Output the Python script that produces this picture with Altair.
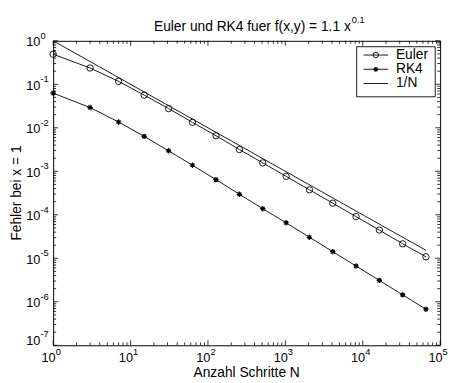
import altair as alt
import pandas as pd

# ---- data ----
N = [1, 3, 7, 15, 31, 63, 127, 255, 511, 1023, 2047, 4095, 8191, 16383, 32767, 65535]
euler = [0.491, 0.237, 0.117, 0.0564, 0.0277, 0.01336, 0.00656, 0.00317, 0.00156,
         0.000766, 0.000376, 0.000185, 9.09e-5, 4.46e-5, 2.15e-5, 1.08e-5]
rk4 = [0.0626, 0.0292, 0.01358, 0.00635, 0.00296, 0.001377, 0.000645, 0.000296,
       0.000138, 6.55e-5, 3.05e-5, 1.42e-5, 6.65e-6, 3.10e-6, 1.44e-6, 6.75e-7]
ref_N = [1, 65535]
ref_val = [1.0, 1.526e-5]

x_major = [1, 10, 100, 1000, 10000, 100000]
x_exp = ["0", "1", "2", "3", "4", "5"]
y_major = [1e-6, 1e-5, 1e-4, 1e-3, 1e-2, 1e-1, 1]
y_exp = ["-6", "-5", "-4", "-3", "-2", "-1", "0"]
y_bottom = [1e-7]
y_bottom_exp = ["-7"]
x_minor = [d * 10 ** k for k in range(0, 5) for d in range(2, 10)]
y_minor = [d * 10.0 ** k for k in range(-7, 0) for d in range(2, 10)]

W, H = 394, 310
FONT = "Liberation Sans"
FS = 14      # titles / legend
TFS = 13     # tick labels
EFS = 9.5    # exponents
xs = alt.Scale(type="log", domain=[1, 1e5], nice=False)
ys = alt.Scale(type="log", domain=[1e-7, 1], nice=False)


def X(f="N"):
    return alt.X(f"{f}:Q", scale=xs, axis=None)


def Y(f="err"):
    return alt.Y(f"{f}:Q", scale=ys, axis=None)


df_e = pd.DataFrame({"N": N, "err": euler})
df_r = pd.DataFrame({"N": N, "err": rk4})
df_ref = pd.DataFrame({"N": ref_N, "err": ref_val})
dummy = pd.DataFrame({"a": [0]})

layers = []

# ---- ticks (inside, all four sides) ----
for vals, ln in ((x_major, 5), (x_minor, 3)):
    d = pd.DataFrame({"v": vals})
    layers.append(alt.Chart(d).mark_rule(color="black", strokeWidth=0.8).encode(
        x=X("v"), y=alt.value(H), y2=alt.value(H - ln)))
    layers.append(alt.Chart(d).mark_rule(color="black", strokeWidth=0.8).encode(
        x=X("v"), y=alt.value(0), y2=alt.value(ln)))
for vals, ln in ((y_major + y_bottom, 5), (y_minor, 3)):
    d = pd.DataFrame({"v": vals})
    layers.append(alt.Chart(d).mark_rule(color="black", strokeWidth=0.8).encode(
        y=Y("v"), x=alt.value(0), x2=alt.value(ln)))
    layers.append(alt.Chart(d).mark_rule(color="black", strokeWidth=0.8).encode(
        y=Y("v"), x=alt.value(W), x2=alt.value(W - ln)))

# ---- data ----
LW = 0.9
ASTER = "M-1,0L1,0M0,-1L0,1M-0.7,-0.7L0.7,0.7M-0.7,0.7L0.7,-0.7"
layers.append(alt.Chart(df_ref).mark_line(color="black", strokeWidth=LW).encode(x=X(), y=Y()))
layers.append(alt.Chart(df_e).mark_line(color="black", strokeWidth=LW).encode(x=X(), y=Y()))
layers.append(alt.Chart(df_e).mark_point(shape="circle", size=42, filled=False, color="black",
                                         strokeWidth=LW, opacity=1).encode(x=X(), y=Y()))
layers.append(alt.Chart(df_r).mark_line(color="black", strokeWidth=LW).encode(x=X(), y=Y()))
layers.append(alt.Chart(df_r).mark_point(shape=ASTER, size=30, filled=False, color="black",
                                         strokeWidth=1.2, opacity=1).encode(x=X(), y=Y()))

# ---- tick labels ----
dxl = pd.DataFrame({"v": x_major, "e": x_exp})
layers.append(alt.Chart(dxl).mark_text(text="10", align="right", dx=2.5, baseline="middle",
                                       fontSize=TFS, font=FONT, color="black").encode(
    x=X("v"), y=alt.value(H + 13.5)))
layers.append(alt.Chart(dxl).mark_text(align="left", dx=2.5, baseline="middle",
                                       fontSize=EFS, font=FONT, color="black").encode(
    x=X("v"), y=alt.value(H + 7), text="e:N"))

for vals, exps, shift in ((y_major, y_exp, 0), (y_bottom, y_bottom_exp, -6)):
    dyl = pd.DataFrame({"v": vals, "e": exps})
    layers.append(alt.Chart(dyl).mark_text(text="10", align="right", baseline="middle", dy=1.5 + shift,
                                           fontSize=TFS, font=FONT, color="black").encode(
        x=alt.value(-13), y=Y("v")))
    layers.append(alt.Chart(dyl).mark_text(align="left", baseline="middle", dy=-5 + shift,
                                           fontSize=EFS, font=FONT, color="black").encode(
        x=alt.value(-13), y=Y("v"), text="e:N"))

# ---- titles ----
layers.append(alt.Chart(dummy).mark_text(text="Euler und RK4 fuer f(x,y) = 1.1 x", align="right",
                                         baseline="alphabetic", fontSize=FS, font=FONT,
                                         color="black").encode(x=alt.value(303), y=alt.value(-10.5)))
layers.append(alt.Chart(dummy).mark_text(text="0.1", align="left", baseline="alphabetic",
                                         fontSize=EFS, font=FONT, color="black").encode(
    x=alt.value(304), y=alt.value(-18.5)))
layers.append(alt.Chart(dummy).mark_text(text="Anzahl Schritte N", align="center", baseline="middle",
                                         fontSize=FS, font=FONT, color="black").encode(
    x=alt.value(W / 2), y=alt.value(H + 28.5)))
layers.append(alt.Chart(dummy).mark_text(text="Fehler bei x = 1", align="center", baseline="middle",
                                         angle=270, fontSize=FS, font=FONT, color="black").encode(
    x=alt.value(-37), y=alt.value(H / 2)))

# ---- legend ----
layers.append(alt.Chart(dummy).mark_rect(fill="white", stroke="black", strokeWidth=0.9).encode(
    x=alt.value(309), x2=alt.value(389), y=alt.value(6), y2=alt.value(57)))
for ly, lab, shp in ((14.5, "Euler", "circle"), (29, "RK4", ASTER), (43.5, "1/N", None)):
    layers.append(alt.Chart(dummy).mark_rule(color="black", strokeWidth=LW).encode(
        x=alt.value(316), x2=alt.value(341), y=alt.value(ly)))
    if shp == "circle":
        layers.append(alt.Chart(dummy).mark_point(shape="circle", size=30, filled=False, color="black",
                                                  strokeWidth=LW, opacity=1).encode(
            x=alt.value(328.5), y=alt.value(ly)))
    elif shp is not None:
        layers.append(alt.Chart(dummy).mark_point(shape=shp, size=24, filled=False, color="black",
                                                  strokeWidth=1.2, opacity=1).encode(
            x=alt.value(328.5), y=alt.value(ly)))
    layers.append(alt.Chart(dummy).mark_text(text=lab, align="left", baseline="middle", fontSize=FS,
                                             font=FONT, color="black").encode(
        x=alt.value(349), y=alt.value(ly)))

chart = alt.layer(*layers).properties(
    width=W, height=H,
    padding={"left": 46, "top": 30, "right": 8, "bottom": 35},
    autosize=alt.AutoSizeParams(type="none"),
    background="white",
).configure_view(stroke="black", strokeWidth=1)

chart.save("out.html", embed_options={"renderer": "svg", "actions": False})
